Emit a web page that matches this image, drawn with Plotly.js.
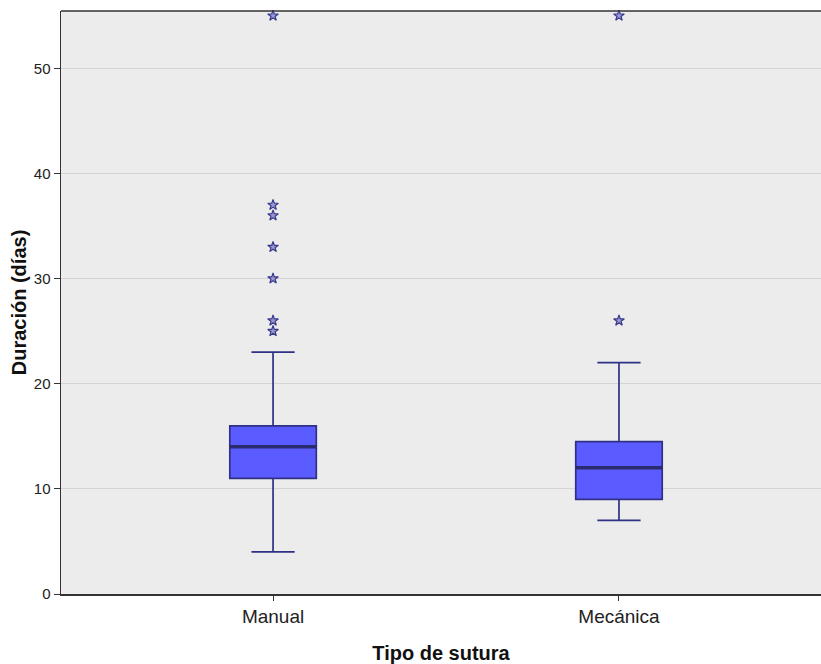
<!DOCTYPE html>
<html>
<head>
<meta charset="utf-8">
<script src="https://cdn.plot.ly/plotly-3.0.1.min.js"></script>
<style>html,body{margin:0;padding:0;background:#fff;}#chart{width:821px;height:664px;}</style>
</head>
<body>
<div id="chart"></div>
<script>
const categories = ['Manual', 'Mecánica'];
const lowerWhisker = [4, 7];
const q1 = [11, 9];
const median = [14, 12];
const q3 = [16, 14.5];
const upperWhisker = [23, 22];
const outliersManual = [25, 26, 30, 33, 36, 37, 55];
const outliersMecanica = [26, 55];
const yTicks = [0, 10, 20, 30, 40, 50];

const pos = categories.map((c, i) => i);
const boxW = 0.25;

const boxTrace = {
  type: 'box',
  x: pos,
  q1: q1, median: median, q3: q3,
  lowerfence: lowerWhisker, upperfence: upperWhisker,
  width: boxW,
  whiskerwidth: 0.5,
  fillcolor: '#5b5cff',
  line: {color: '#2f3185', width: 1.7},
  boxpoints: false,
  hoverinfo: 'skip',
  showlegend: false
};

const medX = [], medY = [];
pos.forEach((p, i) => { medX.push(p - boxW/2, p + boxW/2, null); medY.push(median[i], median[i], null); });
const medianTrace = {
  type: 'scatter', mode: 'lines', x: medX, y: medY,
  line: {color: '#2a2a6e', width: 3.5}, hoverinfo: 'skip', showlegend: false
};

const outX = [], outY = [];
outliersManual.forEach(v => { outX.push(pos[0]); outY.push(v); });
outliersMecanica.forEach(v => { outX.push(pos[1]); outY.push(v); });
const outTrace = {
  type: 'scatter', mode: 'markers', x: outX, y: outY,
  marker: {symbol: 'star', size: 8, color: '#9a9ad0', line: {color: '#3a3a8e', width: 1.2}},
  cliponaxis: false, hoverinfo: 'skip', showlegend: false
};

const layout = {
  width: 821, height: 664,
  margin: {l: 61, r: 0, t: 11, b: 70},
  paper_bgcolor: '#ffffff',
  plot_bgcolor: '#ececec',
  font: {family: 'Liberation Sans, Arial, sans-serif', color: '#222'},
  xaxis: {
    range: [-0.613, 1.584],
    tickvals: pos, ticktext: categories,
    showgrid: false, zeroline: false,
    showline: true, linecolor: '#333', linewidth: 1.5,
    ticks: 'outside', ticklen: 5, tickcolor: '#333',
    tickfont: {size: 19, color: '#222'},
    title: {text: '<b>Tipo de sutura</b>', font: {size: 20, color: '#111'}, standoff: 20}
  },
  yaxis: {
    range: [0, 55.45],
    tickvals: yTicks,
    showgrid: true, gridcolor: '#d4d4d4', gridwidth: 1,
    zeroline: false,
    showline: true, linecolor: '#333', linewidth: 1.5, mirror: false,
    ticks: 'outside', ticklen: 6, tickcolor: '#333',
    tickfont: {size: 15, color: '#222'},
    title: {text: '<b>Duración (días)</b>', font: {size: 20, color: '#111'}, standoff: 2}
  },
  shapes: [{type: 'line', xref: 'paper', yref: 'paper', x0: 0, x1: 1, y0: 1, y1: 1, line: {color: '#333', width: 1.5}}]
};

Plotly.newPlot('chart', [boxTrace, medianTrace, outTrace], layout, {displayModeBar: false, staticPlot: true});
</script>
</body>
</html>
